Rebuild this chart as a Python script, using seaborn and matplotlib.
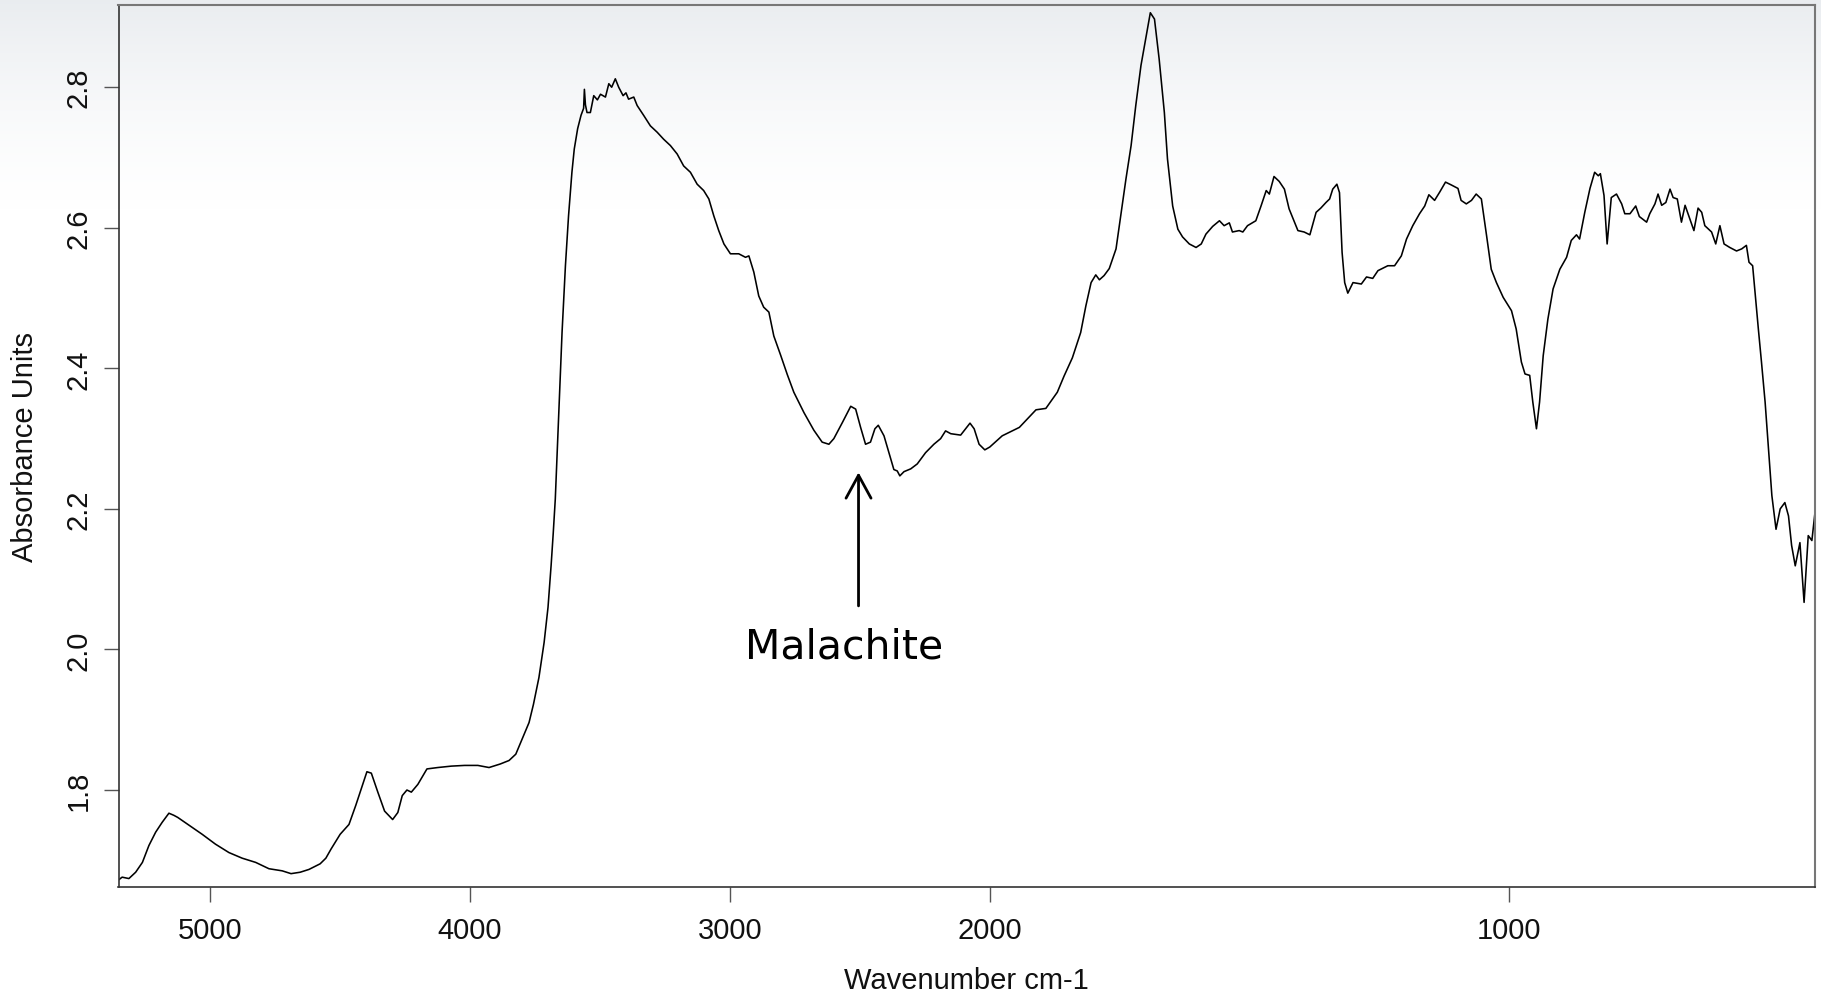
import numpy as np
import pandas as pd
import matplotlib
matplotlib.use("Agg")
import matplotlib.pyplot as plt
from matplotlib.ticker import NullLocator
import seaborn as sns

# ---------------- data ----------------
wavenumber = [
    5353, 5339, 5313, 5287, 5261, 5236, 5210, 5185, 5159, 5140, 5125, 5082, 5031, 4980,
    4928, 4877, 4825, 4774, 4723, 4689, 4654, 4620, 4577, 4555, 4535, 4500, 4466, 4440,
    4415, 4397, 4380, 4355, 4329, 4298, 4278, 4261, 4243, 4226, 4201, 4166, 4124, 4072,
    4021, 3970, 3927, 3884, 3850, 3824, 3799, 3773, 3756, 3735, 3715, 3700, 3688, 3680,
    3672, 3659, 3646, 3633, 3621, 3608, 3599, 3586, 3573, 3563, 3560, 3556, 3550, 3537,
    3524, 3510, 3498, 3479, 3466, 3455, 3441, 3428, 3411, 3400, 3390, 3370, 3357, 3332,
    3306, 3280, 3255, 3229, 3203, 3178, 3152, 3126, 3101, 3081, 3062, 3043, 3023, 2998,
    2966, 2940, 2927, 2908, 2889, 2870, 2850, 2831, 2805, 2779, 2754, 2715, 2677, 2645,
    2619, 2600, 2567, 2535, 2516, 2497, 2478, 2459, 2442, 2429, 2407, 2388, 2369, 2356,
    2346, 2330, 2304, 2279, 2247, 2215, 2189, 2170, 2150, 2112, 2093, 2076, 2060, 2041,
    2019, 2000, 1976, 1943, 1911, 1892, 1870, 1857, 1841, 1825, 1815, 1805, 1796, 1789,
    1780, 1770, 1757, 1748, 1738, 1728, 1719, 1709, 1699, 1691, 1683, 1674, 1664, 1658,
    1648, 1638, 1629, 1616, 1603, 1593, 1584, 1571, 1558, 1549, 1539, 1533, 1520, 1513,
    1504, 1488, 1478, 1468, 1462, 1453, 1443, 1433, 1424, 1407, 1395, 1384, 1372, 1363,
    1353, 1346, 1340, 1332, 1327, 1322, 1317, 1311, 1301, 1285, 1275, 1263, 1253, 1234,
    1221, 1208, 1198, 1186, 1173, 1163, 1155, 1144, 1134, 1123, 1112, 1099, 1093, 1083,
    1073, 1064, 1054, 1044, 1035, 1025, 1012, 996, 987, 977, 970, 961, 955, 948,
    942, 935, 926, 916, 903, 890, 881, 871, 865, 855, 845, 836, 829, 825,
    818, 812, 804, 794, 784, 778, 768, 757, 750, 736, 730, 720, 714, 707,
    699, 691, 685, 677, 669, 662, 654, 645, 637, 630, 624, 611, 603, 595,
    587, 576, 563, 553, 544, 539, 532, 528, 521, 515, 508, 502, 495, 487,
    479, 470, 463, 457, 450, 441, 433, 425, 418, 412,
]
absorbance = [
    1.672, 1.676, 1.674, 1.683, 1.697, 1.721, 1.740, 1.754, 1.767, 1.764, 1.761, 1.750, 1.737, 1.723,
    1.711, 1.703, 1.697, 1.688, 1.685, 1.681, 1.683, 1.687, 1.695, 1.703, 1.716, 1.737, 1.751, 1.778,
    1.806, 1.826, 1.824, 1.797, 1.770, 1.758, 1.768, 1.792, 1.800, 1.797, 1.808, 1.830, 1.832, 1.834,
    1.835, 1.835, 1.832, 1.837, 1.842, 1.851, 1.873, 1.896, 1.922, 1.960, 2.010, 2.060, 2.120, 2.165,
    2.214, 2.333, 2.451, 2.546, 2.617, 2.679, 2.712, 2.741, 2.760, 2.770, 2.797, 2.775, 2.764, 2.764,
    2.788, 2.782, 2.790, 2.786, 2.805, 2.800, 2.812, 2.800, 2.788, 2.792, 2.783, 2.786, 2.774, 2.760,
    2.745, 2.736, 2.726, 2.717, 2.705, 2.688, 2.679, 2.662, 2.653, 2.641, 2.617, 2.596, 2.577, 2.563,
    2.563, 2.558, 2.560, 2.537, 2.503, 2.487, 2.480, 2.446, 2.419, 2.391, 2.366, 2.337, 2.312, 2.295,
    2.292, 2.300, 2.323, 2.346, 2.342, 2.316, 2.292, 2.295, 2.314, 2.319, 2.304, 2.280, 2.256, 2.254,
    2.247, 2.253, 2.257, 2.264, 2.280, 2.292, 2.300, 2.311, 2.307, 2.305, 2.314, 2.322, 2.314, 2.292,
    2.284, 2.288, 2.304, 2.316, 2.341, 2.343, 2.366, 2.389, 2.415, 2.451, 2.489, 2.522, 2.533, 2.526,
    2.532, 2.542, 2.570, 2.617, 2.669, 2.717, 2.774, 2.831, 2.873, 2.906, 2.897, 2.840, 2.764, 2.698,
    2.631, 2.598, 2.587, 2.577, 2.572, 2.577, 2.591, 2.602, 2.610, 2.603, 2.607, 2.594, 2.596, 2.594,
    2.603, 2.610, 2.631, 2.653, 2.648, 2.673, 2.666, 2.655, 2.627, 2.596, 2.594, 2.590, 2.622, 2.628,
    2.636, 2.641, 2.655, 2.662, 2.650, 2.565, 2.522, 2.507, 2.522, 2.520, 2.530, 2.528, 2.539, 2.546,
    2.546, 2.560, 2.584, 2.603, 2.620, 2.631, 2.647, 2.639, 2.651, 2.665, 2.661, 2.656, 2.639, 2.634,
    2.639, 2.648, 2.641, 2.589, 2.541, 2.522, 2.501, 2.482, 2.456, 2.409, 2.392, 2.390, 2.352, 2.314,
    2.352, 2.418, 2.470, 2.513, 2.541, 2.558, 2.582, 2.590, 2.584, 2.622, 2.656, 2.679, 2.674, 2.677,
    2.646, 2.577, 2.643, 2.648, 2.634, 2.620, 2.620, 2.631, 2.616, 2.608, 2.620, 2.634, 2.648, 2.632,
    2.636, 2.655, 2.643, 2.641, 2.608, 2.632, 2.615, 2.596, 2.628, 2.622, 2.603, 2.594, 2.577, 2.603,
    2.577, 2.572, 2.567, 2.570, 2.575, 2.551, 2.546, 2.513, 2.456, 2.409, 2.352, 2.290, 2.219, 2.171,
    2.200, 2.209, 2.190, 2.148, 2.119, 2.152, 2.067, 2.162, 2.155, 2.195,
]

x_ticks = [5000, 4000, 3000, 2000, 1000]
x_tick_labels = ["5000", "4000", "3000", "2000", "1000"]
y_ticks = [1.8, 2.0, 2.2, 2.4, 2.6, 2.8]
y_tick_labels = ["1.8", "2.0", "2.2", "2.4", "2.6", "2.8"]

annotation_text = "Malachite"
arrow_x = 2505
arrow_tip_y = 2.252
arrow_tail_y = 2.062
text_x = 2561
text_y = 1.989

# ---------------- styling ----------------
sns.set_style("white")
plt.rcParams["font.family"] = ["Liberation Sans", "DejaVu Sans"]

W, H = 1821, 995
fig = plt.figure(figsize=(W / 100, H / 100), dpi=100)

# background gradient (light blue-grey at top fading to white)
bg = fig.add_axes([0, 0, 1, 1])
bg.set_zorder(0)
rows = np.arange(H)
wgt = np.clip(1 - rows / 210.0, 0, 1) ** 1.5
top_col = np.array([0.915, 0.927, 0.940])
img = 1 - (1 - top_col)[None, :] * wgt[:, None]
bg.imshow(img[:, None, :], aspect="auto", extent=[0, 1, 0, 1], origin="upper")
bg.axis("off")

left, right, top, bottom = 118.5, 1815, 6, 888
ax = fig.add_axes([left / W, 1 - bottom / H, (right - left) / W, (bottom - top) / H])
ax.set_zorder(1)
ax.patch.set_alpha(0)

df = pd.DataFrame({"wavenumber": wavenumber, "absorbance": absorbance})
sns.lineplot(data=df, x="wavenumber", y="absorbance", ax=ax, color="black",
             linewidth=1.15, estimator=None, sort=False)


def fwd(x):
    x = np.asarray(x, dtype=float)
    return np.where(x >= 2000, x, 2 * x - 2000)


def inv(y):
    y = np.asarray(y, dtype=float)
    return np.where(y >= 2000, y, (y + 2000) / 2)


ax.set_xscale("function", functions=(fwd, inv))
ax.set_xlim(5353, 412)
ax.set_ylim(1.662, 2.917)

ax.set_xticks(x_ticks)
ax.set_xticklabels(x_tick_labels)
ax.xaxis.set_minor_locator(NullLocator())
ax.set_yticks(y_ticks)
ax.set_yticklabels(y_tick_labels)
ax.yaxis.set_minor_locator(NullLocator())

ax.tick_params(axis="both", which="major", direction="out", length=10.8, width=1.0,
               color="#555555", labelsize=21, labelcolor="#111111",
               bottom=True, left=True, top=False, right=False)
ax.tick_params(axis="x", pad=10)
ax.tick_params(axis="y", pad=8, labelrotation=90)
for lbl in ax.get_yticklabels():
    lbl.set_va("center")

for side in ["left", "bottom"]:
    ax.spines[side].set_color("#333333")
    ax.spines[side].set_linewidth(1.2)
for side in ["top", "right"]:
    ax.spines[side].set_color("#777777")
    ax.spines[side].set_linewidth(1.5)
for s in ax.spines.values():
    s.set_visible(True)

ax.set_xlabel("")
ax.set_ylabel("")
fig.text((left + right) / 2 / W, 1 - 981 / H, "Wavenumber cm-1", ha="center", va="center",
         fontsize=21, color="#111111")
fig.text(25.5 / W, 1 - 447 / H, "Absorbance Units", ha="center", va="center",
         rotation=90, fontsize=21, color="#111111")

ax.annotate("", xy=(arrow_x, arrow_tip_y), xytext=(arrow_x, arrow_tail_y),
            arrowprops=dict(arrowstyle="->,head_length=0.55,head_width=0.3",
                            lw=2.0, color="black", shrinkA=0, shrinkB=0,
                            mutation_scale=30))
ax.text(text_x, text_y, annotation_text, ha="center", va="baseline",
        fontsize=29.5, family=["DejaVu Sans"], color="black")

fig.savefig("out.png", dpi=100)
